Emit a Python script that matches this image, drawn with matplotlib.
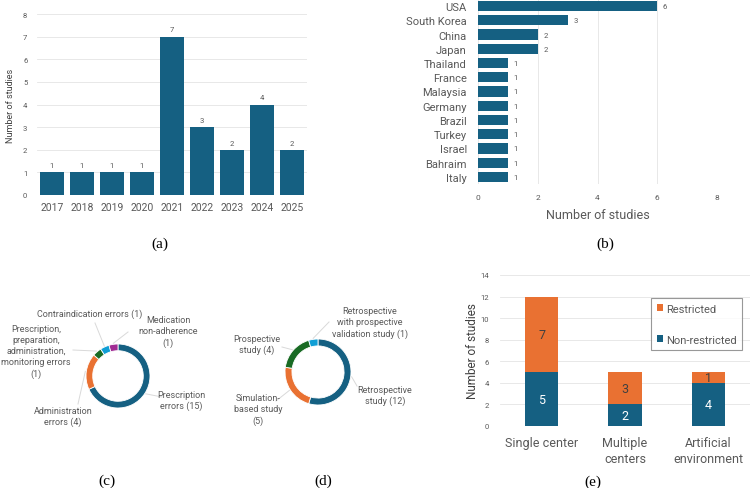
import numpy as np
import matplotlib
matplotlib.use("Agg")
import matplotlib.pyplot as plt

# (a) publications per year
years = ["2017", "2018", "2019", "2020", "2021", "2022", "2023", "2024", "2025"]
year_counts = [1, 1, 1, 1, 7, 3, 2, 4, 2]

# (b) studies per country
countries = ["USA", "South Korea", "China", "Japan", "Thailand", "France", "Malaysia",
             "Germany", "Brazil", "Turkey", "Israel", "Bahraim", "Italy"]
country_counts = [6, 3, 2, 2, 1, 1, 1, 1, 1, 1, 1, 1, 1]

# (c) error types
error_labels = ["Prescription\nerrors (15)", "Administration\nerrors (4)",
                "Prescription,\npreparation,\nadministration,\nmonitoring errors\n(1)",
                "Contraindication errors (1)", "Medication\nnon-adherence\n(1)"]
error_counts = [15, 4, 1, 1, 1]

# (d) study design
design_labels = ["Retrospective\nstudy (12)", "Simulation-\nbased study\n(5)",
                 "Prospective\nstudy (4)",
                 "Retrospective\nwith prospective\nvalidation study (1)"]
design_counts = [12, 5, 4, 1]

# (e) setting
settings = ["Single center", "Multiple\ncenters", "Artificial\nenvironment"]
non_restricted = [5, 2, 4]
restricted = [7, 3, 1]

NAVY = "#156082"
ORANGE = "#e97132"
GREEN = "#196b24"
LBLUE = "#0f9ed5"
PURPLE = "#a02b93"
TXT = "#595959"
GRID = "#e4e4e4"

W, H = 750, 489
plt.rcParams['font.family'] = ['Roboto', 'DejaVu Sans']

fig = plt.figure(figsize=(W / 100, H / 100), dpi=100)


def box(l, t, r, b):
    return [l / W, 1 - b / H, (r - l) / W, (b - t) / H]


def clean(ax):
    for s in ax.spines.values():
        s.set_visible(False)
    ax.tick_params(length=0, colors=TXT)


# ---- (a)
ax = fig.add_axes(box(37, 15, 307, 196))
x = np.arange(len(years))
bars = ax.bar(x, year_counts, width=0.8, color=NAVY, zorder=2)
ax.bar_label(bars, padding=3, fontsize=5.5, color=TXT)
ax.set_xlim(-0.5, len(years) - 0.5)
ax.set_ylim(0, 8)
ax.set_xticks(x, years, fontsize=7.5)
ax.set_yticks(range(0, 9))
ax.tick_params(axis='y', labelsize=5.5, pad=7)
ax.tick_params(axis='x', pad=5)
ax.grid(axis='y', color=GRID, lw=0.6, zorder=0)
ax.set_ylabel("Number of studies", fontsize=6.5, color="#404040", labelpad=6)
clean(ax)

# ---- (b)
ax = fig.add_axes(box(478, 0, 717, 185))
y = np.arange(len(countries))
bars = ax.barh(y, country_counts, height=0.72, color=NAVY, zorder=2)
ax.bar_label(bars, padding=4, fontsize=5.5, color=TXT)
ax.set_ylim(len(countries) - 0.5, -0.5)
ax.set_xlim(0, 8)
ax.set_yticks(y, countries, fontsize=8)
ax.set_xticks([0, 2, 4, 6, 8])
ax.tick_params(axis='x', labelsize=6, pad=7)
ax.tick_params(axis='y', pad=8)
ax.grid(axis='x', color=GRID, lw=0.6, zorder=0)
ax.set_xlabel("Number of studies", fontsize=9, color=TXT, labelpad=6)
clean(ax)

# ---- (e)
ax = fig.add_axes(box(500, 276, 750, 427))
x = np.arange(len(settings))
b1 = ax.bar(x, non_restricted, width=0.4, color=NAVY, zorder=2, label="Non-restricted")
b2 = ax.bar(x, restricted, width=0.4, bottom=non_restricted, color=ORANGE, zorder=2,
            label="Restricted")
ax.bar_label(b1, label_type='center', fontsize=9, color="white")
ax.bar_label(b2, label_type='center', fontsize=9, color="#404040")
ax.set_xlim(-0.5, 2.5)
ax.set_ylim(0, 14)
ax.set_yticks(range(0, 15, 2))
ax.set_xticks(x, settings, fontsize=9, linespacing=1.3)
ax.tick_params(axis='y', labelsize=5.5, pad=8)
ax.tick_params(axis='x', pad=7)
ax.grid(axis='y', color=GRID, lw=0.6, zorder=0)
ax.set_ylabel("Number of studies", fontsize=8.5, color="#404040", labelpad=1)
clean(ax)
h, l = ax.get_legend_handles_labels()
leg = ax.legend(h[::-1], l[::-1], loc='upper right', bbox_to_anchor=(242 / 250, 1 - 23 / 151),
                fontsize=8, frameon=True, fancybox=False, edgecolor="#7f7f7f",
                labelspacing=1.9, handlelength=0.55, handleheight=0.55, handletextpad=0.25,
                borderpad=0.5, borderaxespad=0)
leg.get_frame().set_linewidth(0.8)
for t in leg.get_texts():
    t.set_color(TXT)

# ---- (c) and (d) donuts, drawn in pixel coordinates
ov = fig.add_axes([0, 0, 1, 1], zorder=-1)


def donut(counts, labels, cx, cy, r, colors, label_pos, line_ends):
    cyf = H - cy
    ov.pie(counts, center=(cx, cyf), radius=r, startangle=90, counterclock=False,
           colors=colors, wedgeprops=dict(width=r * 0.21, edgecolor='white', linewidth=0.6))
    total = sum(counts)
    for i in range(len(counts)):
        ang = np.deg2rad(90 - 360 * (sum(counts[:i]) + counts[i] / 2) / total)
        px = cx + (r + 1) * np.cos(ang)
        py = cyf + (r + 1) * np.sin(ang)
        ex, ey = line_ends[i]
        ov.plot([px, ex], [py, H - ey], color="#d9d9d9", lw=0.7)
        tx, ty = label_pos[i]
        ov.text(tx, H - ty, labels[i], ha='center', va='center', fontsize=6.5,
                color=TXT, linespacing=1.3)


donut(error_counts, error_labels, 118, 377, 32, [NAVY, ORANGE, GREEN, LBLUE, PURPLE],
      [(181, 401), (63, 417), (36, 352), (90, 314), (168, 332)],
      [(162, 398), (78, 405), (73, 351), (95, 324), (128, 333)])

donut(design_counts, design_labels, 318, 373, 33, [NAVY, ORANGE, GREEN, LBLUE],
      [(385, 396), (258, 410), (257, 345), (370, 323)],
      [(357, 387), (276, 402), (282, 348), (329, 323)])

ov.set_xlim(0, W)
ov.set_ylim(0, H)
ov.set_aspect('auto')
ov.axis('off')

# captions
for lab, cx, cy in [("(a)", 160, 244), ("(b)", 605, 244), ("(c)", 107, 481),
                    ("(d)", 323, 481), ("(e)", 593, 482)]:
    fig.text(cx / W, 1 - cy / H, lab, ha='center', va='center', fontsize=11,
             family='Liberation Serif', color='black')

fig.savefig("out.png", dpi=100)
